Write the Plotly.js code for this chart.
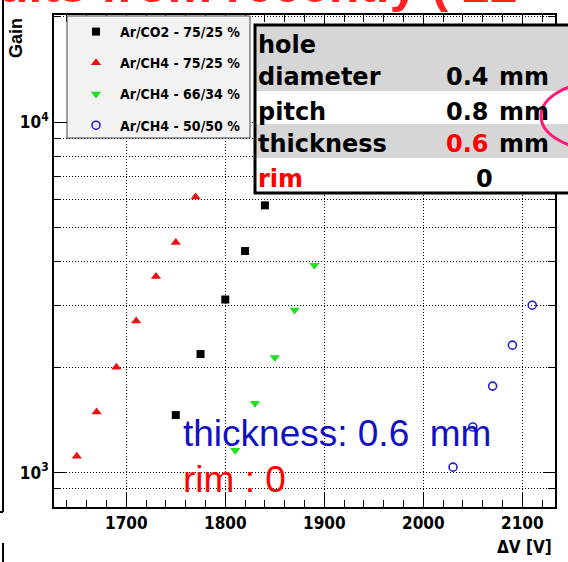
<!DOCTYPE html>
<html><head><meta charset="utf-8">
<script src="https://cdn.plot.ly/plotly-3.0.1.min.js"></script>
<style>html,body{margin:0;padding:0;background:#fff;}#chart{width:568px;height:562px;}</style>
</head><body><div id="chart"></div>
<script>
// ---- data ----
const seriesNames = ["Ar/CO2 - 75/25 %", "Ar/CH4 - 75/25 %", "Ar/CH4 - 66/34 %", "Ar/CH4 - 50/50 %"];
const vCO2_75 = [1750, 1775, 1800, 1820, 1840];
const gCO2_75 = [1460, 2180, 3120, 4290, 5790];
const vCH4_75 = [1650, 1670, 1690, 1710, 1730, 1750, 1770];
const gCH4_75 = [1113, 1489, 2000, 2711, 3630, 4540, 6120];
const vCH4_66 = [1810, 1830, 1850, 1870, 1890];
const gCH4_66 = [1158, 1578, 2132, 2912, 3909];
const vCH4_50 = [2030, 2050, 2070, 2090, 2110];
const gCH4_50 = [1037, 1350, 1766, 2311, 3005];
const xTicks = [1700, 1800, 1900, 2000, 2100];
const yTicks = [1000, 10000];
const yTickText = ["10<sup>3</sup>", "10<sup>4</sup>"];
const yMinor = [900, 2000, 3000, 4000, 5000, 6000, 7000, 8000, 9000, 20000];
const tableRows = [
  {label: "hole", value: "", unit: ""},
  {label: "diameter", value: "0.4", unit: "mm"},
  {label: "pitch", value: "0.8", unit: "mm"},
  {label: "thickness", value: "0.6", unit: "mm"},
  {label: "rim", value: "0", unit: ""}
];

// ---- geometry helpers (pixel -> paper) ----
const W = 568, H = 562, ML = 54, MR = 13, MT = 15, MB = 55;
const PW = W - ML - MR, PH = H - MT - MB;
const px = x => (x - ML) / PW;
const py = y => (H - MB - y) / PH;

const tickFont = {family: "Liberation Sans Narrow, DejaVu Sans Condensed, Liberation Sans, Arial", size: 17, color: "#000", weight: "bold"};
const legFont = {family: "Liberation Sans Narrow, DejaVu Sans Condensed, Liberation Sans, Arial", size: 14, color: "#000", weight: "bold"};

const traces = [
  {x: vCO2_75, y: gCO2_75, name: seriesNames[0], legendgroup: "a", mode: "markers", type: "scatter",
   marker: {symbol: "square", size: 8, color: "#000"}},
  {x: vCH4_75, y: gCH4_75, name: seriesNames[1], legendgroup: "b", mode: "markers", type: "scatter",
   marker: {symbol: "triangle-up", size: 9, color: "#ee1111"}},
  {x: vCH4_66, y: gCH4_66, name: seriesNames[2], legendgroup: "c", mode: "markers", type: "scatter",
   marker: {symbol: "triangle-down", size: 9, color: "#1ee01e"}},
  {x: vCH4_50, y: gCH4_50, name: seriesNames[3], legendgroup: "d", mode: "markers", type: "scatter",
   marker: {symbol: "circle-open", size: 8, color: "#2222cc", line: {width: 1.6, color: "#2222cc"}}}
];

const tFont = {family: "DejaVu Sans, Verdana, sans-serif", size: 24, color: "#000", weight: "bold"};
const annotations = [
  // partially visible slide title
  {text: "ults from recently ( 22", x: px(-4), y: py(-15), xref: "paper", yref: "paper", xanchor: "left", yanchor: "middle",
   showarrow: false, font: {family: "Liberation Sans, Arial", size: 50, color: "#ff2222", weight: "bold"}},
  {text: "Gain", x: px(16), y: py(38), xref: "paper", yref: "paper", xanchor: "center", yanchor: "middle", textangle: -90, showarrow: false,
   font: {family: "Liberation Sans, Arial", size: 18, color: "#000", weight: "bold"}},
  {text: "ΔV [V]", x: px(554), y: py(547), xref: "paper", yref: "paper", xanchor: "right", yanchor: "middle", showarrow: false,
   font: tickFont},
  {text: "thickness: 0.6  mm", x: px(181), y: py(433), xref: "paper", yref: "paper", xanchor: "left", yanchor: "middle",
   showarrow: false, font: {family: "Liberation Sans, Arial", size: 37, color: "#1010c4"}},
  {text: "rim : 0", x: px(181), y: py(479), xref: "paper", yref: "paper", xanchor: "left", yanchor: "middle",
   showarrow: false, font: {family: "Liberation Sans, Arial", size: 37, color: "#ff0000"}}
];
const rowCenters = [45, 77, 112, 144, 179];
tableRows.forEach((r, i) => {
  annotations.push({text: r.label, x: px(256), y: py(rowCenters[i]), xref: "paper", yref: "paper", xanchor: "left",
    yanchor: "middle", showarrow: false, font: Object.assign({}, tFont, {color: r.label === "rim" ? "#ff0000" : "#000"})});
  if (r.value && r.unit) {
    annotations.push({text: r.value, x: px(491), y: py(rowCenters[i]), xref: "paper", yref: "paper", xanchor: "right",
      yanchor: "middle", showarrow: false, font: Object.assign({}, tFont, {color: r.label === "thickness" ? "#ff0000" : "#000"})});
    annotations.push({text: r.unit, x: px(497), y: py(rowCenters[i]), xref: "paper", yref: "paper", xanchor: "left",
      yanchor: "middle", showarrow: false, font: tFont});
  } else if (r.value) {
    annotations.push({text: r.value, x: px(484), y: py(rowCenters[i]), xref: "paper", yref: "paper", xanchor: "center",
      yanchor: "middle", showarrow: false, font: tFont});
  }
});

const rect = (x0, y0, x1, y1, fill, line, lw) => ({type: "rect", xref: "paper", yref: "paper", layer: "above",
  x0: px(x0), x1: px(x1), y0: py(y1), y1: py(y0), fillcolor: fill, line: {color: line, width: lw}});
const shapes = [
  // legend box
  rect(67, 16, 250, 138, "#f2f2f2", "#444", 1),
  // table
  rect(255, 25, 580, 193, "#ffffff", "rgba(0,0,0,0)", 0),
  rect(255, 25, 580, 91, "#d6d6d6", "rgba(0,0,0,0)", 0),
  rect(255, 124, 580, 158, "#d6d6d6", "rgba(0,0,0,0)", 0),
  rect(255, 25, 580, 193, "rgba(0,0,0,0)", "#000", 3),
  // pink ellipse
  {type: "circle", xref: "paper", yref: "paper", layer: "above", x0: px(541), x1: px(660), y0: py(150), y1: py(82),
   line: {color: "#ff1a7a", width: 3}},
  // left border from previous frame
  {type: "line", xref: "paper", yref: "paper", x0: px(3), x1: px(3), y0: py(0), y1: py(512), line: {color: "#000", width: 2}},
  {type: "line", xref: "paper", yref: "paper", x0: px(0), x1: px(3), y0: py(512), y1: py(512), line: {color: "#000", width: 2}},
  {type: "line", xref: "paper", yref: "paper", x0: px(3), x1: px(3), y0: py(543), y1: py(562), line: {color: "#000", width: 2}}
];

const layout = {
  width: W, height: H, margin: {l: ML, r: MR, t: MT, b: MB},
  paper_bgcolor: "#fff", plot_bgcolor: "#fff",
  showlegend: true,
  legend: {x: px(72), y: py(16), xanchor: "left", yanchor: "top", bgcolor: "rgba(0,0,0,0)", borderwidth: 0,
    font: legFont, tracegroupgap: 10, itemwidth: 38},
  xaxis: {range: [1627, 2133], tickvals: xTicks, ticks: "inside", ticklen: 15, tickwidth: 1, tickcolor: "#000",
    showline: true, linecolor: "#000", linewidth: 2, mirror: "ticks",
    showgrid: true, gridcolor: "#000", gridwidth: 1, griddash: "1px,2px", zeroline: false,
    tickfont: tickFont,
    minor: {dtick: 20, tick0: 1700, ticks: "inside", ticklen: 7, tickcolor: "#000", showgrid: false}},
  yaxis: {type: "log", range: [2.902, 4.306], tickvals: yTicks, ticktext: yTickText, ticks: "inside", ticklen: 12,
    tickcolor: "#000", showline: true, linecolor: "#000", linewidth: 2, mirror: "ticks",
    showgrid: true, gridcolor: "#000", gridwidth: 1, griddash: "1px,2px", zeroline: false,
    tickfont: tickFont,
    minor: {tickvals: yMinor, ticks: "inside", ticklen: 7, tickcolor: "#000", showgrid: true,
      gridcolor: "#000", gridwidth: 1, griddash: "1px,2px"}},
  shapes: shapes,
  annotations: annotations
};

Plotly.newPlot("chart", traces, layout, {displayModeBar: false, staticPlot: true});
</script>
</body></html>
